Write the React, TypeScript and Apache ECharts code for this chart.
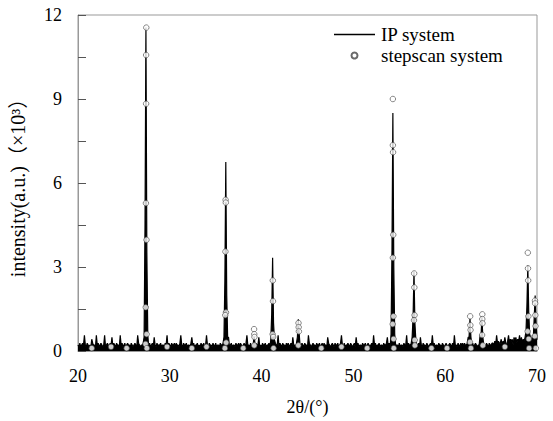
import React, { useEffect, useRef } from "react";
import * as echarts from "echarts";

// Baseline noise of the IP system trace, 0.1° per character, from 20.0° onward (digit × 0.07 ×10³)
const NOISE_ROWS: string[] = [
  "32423438324323264332834234323823432437243243328342",
  "34234332432343284323343243324234273243334233243824",
  "32433424332483243342332473423342324334238324332432",
  "42332433423243723423324334243234248332423432433723",
  "24334233424323243382432433243423427332433423432433",
  "28432343324334234243327432343243342348324233432432",
  "34273423324334234323428342334233243347242343243332",
  "42332433824334234243342732433243234383423324332432",
  "34233432428332432434243347243342343233824333243243",
  "34435384544635474358465637574658474657476857485736",
  "5",
];
const NOISE_SCALE = 0.07;

// Reflection peaks of the IP system trace: [2θ, intensity ×10³]
const IP_PEAKS: [number, number][] = [
  [27.2, 0.5], [27.3, 4.5], [27.4, 11.55], [27.5, 3.5], [27.6, 0.6],
  [35.9, 0.5], [36.0, 2.5], [36.1, 6.75], [36.2, 2.0], [36.3, 0.5],
  [39.2, 0.55],
  [41.0, 0.4], [41.1, 1.3], [41.2, 3.33], [41.3, 1.0], [41.4, 0.4],
  [43.9, 0.5], [44.0, 1.13], [44.1, 0.6],
  [54.1, 0.6], [54.2, 3.5], [54.3, 8.5], [54.4, 3.0], [54.5, 0.6],
  [56.4, 0.5], [56.5, 1.2], [56.6, 2.84], [56.7, 1.0], [56.8, 0.4],
  [62.6, 0.5], [62.7, 1.15], [62.8, 0.5],
  [63.9, 0.5], [64.0, 1.2], [64.1, 0.5],
  [68.8, 0.7], [68.9, 1.6], [69.0, 3.05], [69.1, 1.4], [69.2, 0.6],
  [69.6, 0.5], [69.7, 1.2], [69.8, 1.98], [69.9, 1.0], [70.0, 0.4],
];

// Stepscan system points: [2θ, intensity ×10³]
const STEPSCAN: [number, number][] = [
  [27.44, 11.55], [27.42, 10.57], [27.42, 8.83], [27.4, 5.28], [27.46, 3.97], [27.38, 1.56], [27.48, 0.6], [27.36, 0.25], [27.5, 0.1],
  [36.08, 5.4], [36.1, 5.3], [36.06, 3.55], [36.12, 1.38], [36.04, 1.28], [36.14, 0.3], [36.0, 0.1],
  [39.18, 0.78], [39.2, 0.6], [39.22, 0.5], [39.2, 0.2],
  [41.22, 2.52], [41.24, 1.78], [41.2, 0.6], [41.26, 0.5], [41.3, 0.1],
  [44.02, 1.0], [44.04, 0.85], [44.06, 0.7], [44.0, 0.2],
  [54.3, 9.0], [54.3, 7.35], [54.32, 7.1], [54.34, 4.15], [54.3, 3.33], [54.36, 1.24], [54.28, 0.96], [54.38, 0.43], [54.4, 0.1],
  [56.62, 2.77], [56.64, 2.27], [56.66, 1.28], [56.6, 1.1], [56.68, 0.39], [56.7, 0.2],
  [62.72, 1.24], [62.74, 0.92], [62.76, 0.75], [62.7, 0.32], [62.8, 0.1],
  [64.04, 1.31], [64.04, 1.14], [64.06, 0.99], [64.02, 0.57], [64.1, 0.2],
  [69.0, 3.51], [69.02, 2.95], [69.04, 2.52], [69.06, 1.24], [68.98, 0.7], [69.1, 0.43], [69.14, 0.1],
  [69.78, 1.8], [69.8, 1.7], [69.82, 1.28], [69.84, 0.89], [69.76, 0.53], [69.88, 0.1],
  [21.5, 0.1], [23.6, 0.15], [25.3, 0.1], [29.7, 0.15], [32.4, 0.1], [34.0, 0.15],
  [38.0, 0.1], [46.5, 0.1], [48.7, 0.15], [51.5, 0.1], [58.5, 0.1], [60.2, 0.1], [66.5, 0.15],
];

const Y_MIN = 0;
const Y_MAX = 12;
const Y_STEP = 1.5;
const X_MIN = 20;
const X_MAX = 70;
const X_STEP = 10;

const SERIF = "Liberation Serif";

function buildLine(): [number, number][] {
  const pts: [number, number][] = [];
  const digits = NOISE_ROWS.join("");
  for (let i = 0; i < digits.length; i++) {
    const x = Math.round((X_MIN + i * 0.1) * 10) / 10;
    pts.push([x, Number(digits[i]) * NOISE_SCALE]);
  }
  for (const [px, py] of IP_PEAKS) {
    const idx = Math.round((px - X_MIN) * 10);
    if (idx >= 0 && idx < pts.length) pts[idx] = [pts[idx][0], py];
  }
  return pts;
}

export default function App() {
  const ref = useRef<HTMLDivElement>(null);
  useEffect(() => {
    if (!ref.current) return;
    const chart = echarts.init(ref.current, undefined, { renderer: "svg" });
    chart.setOption({
      animation: false,
      backgroundColor: "#fff",
      grid: {
        left: 78,
        right: 16,
        top: 15,
        bottom: 68,
        show: true,
        borderColor: "#999",
        borderWidth: 1,
      },
      legend: {
        orient: "vertical",
        left: 334,
        top: 25,
        padding: 0,
        itemWidth: 41,
        itemHeight: 6,
        itemGap: 2,
        textStyle: { fontFamily: SERIF, fontSize: 19, color: "#000", padding: [0, 0, 0, 1] },
        data: [
          { name: "IP system", icon: "path://M0,0 L40,0 L40,1.5 L0,1.5 Z", itemStyle: { color: "#000" } },
          { name: "stepscan system", icon: "circle" },
        ],
      },
      xAxis: {
        type: "value",
        min: X_MIN,
        max: X_MAX,
        interval: X_STEP,
        name: "2θ/(°)",
        nameLocation: "middle",
        nameGap: 47,
        nameTextStyle: { fontFamily: SERIF, fontSize: 18, color: "#000" },
        axisLine: { show: true, lineStyle: { color: "#999" } },
        axisTick: { show: false },
        splitLine: { show: false },
        axisLabel: { fontFamily: SERIF, fontSize: 18, color: "#000", margin: 16 },
      },
      yAxis: {
        type: "value",
        min: Y_MIN,
        max: Y_MAX,
        interval: Y_STEP,
        name: "intensity(a.u.)（×10³）",
        nameLocation: "middle",
        nameGap: 50,
        nameTextStyle: { fontFamily: "Liberation Serif, Noto Sans CJK SC", fontSize: 20, color: "#000" },
        axisLine: { show: true, lineStyle: { color: "#999" } },
        axisTick: { show: true, inside: true, length: 8, lineStyle: { color: "#555" } },
        splitLine: { show: false },
        axisLabel: {
          fontFamily: SERIF,
          fontSize: 18,
          color: "#000",
          margin: 16,
          formatter: (v: number) => (Math.abs(v % 3) < 1e-9 ? String(v) : ""),
        },
      },
      series: [
        {
          name: "IP system",
          type: "line",
          data: buildLine(),
          symbol: "none",
          lineStyle: { color: "#000", width: 1.2 },
          areaStyle: { color: "#000", opacity: 1 },
          itemStyle: { color: "#000" },
          z: 2,
        },
        {
          name: "stepscan system",
          type: "scatter",
          data: STEPSCAN,
          symbol: "circle",
          symbolSize: 5.5,
          itemStyle: { color: "#fff", borderColor: "#444", borderWidth: 0.8 },
          z: 3,
        },
      ],
    });
    return () => chart.dispose();
  }, []);
  return (
    <div
      ref={ref}
      style={{ position: "fixed", left: 0, top: 0, width: 553, height: 421 }}
    />
  );
}
